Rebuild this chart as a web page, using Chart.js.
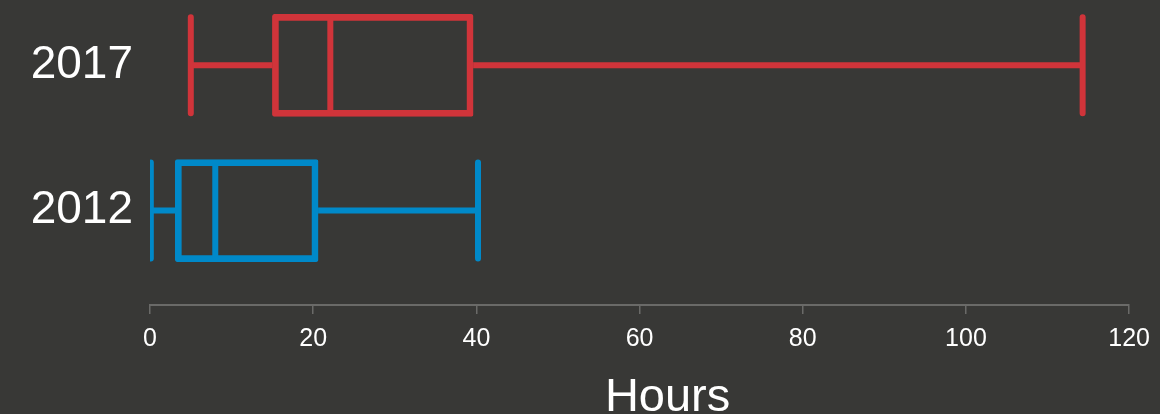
<!DOCTYPE html>
<html>
<head>
<meta charset="utf-8">
<script src="https://cdn.jsdelivr.net/npm/chart.js@4.4.1/dist/chart.umd.min.js"></script>
<style>
  html, body { margin: 0; padding: 0; background: #383836; }
  #wrap { width: 1160px; height: 414px; }
</style>
</head>
<body>
<div id="wrap"><canvas id="boxChart"></canvas></div>
<script>
// box plot values (hours)
const years = ["2017", "2012"];
const mins = [5, 0.1];
const q1s = [15, 3.1];
const medians = [22.1, 8];
const q3s = [39.6, 20.6];
const maxs = [114.3, 40.2];
const colors = ["#d0343a", "#0089c9"];
const xTicks = [0, 20, 40, 60, 80, 100, 120];

// row position of each year on the (hidden) linear y scale, top row first
const rowPos = years.map((y, i) => years.length - i);

const LINE = 6;
const BOX_H = 102;

const whiskerPlugin = {
  id: "whiskers",
  afterDatasetsDraw(chart) {
    const ctx = chart.ctx;
    const xs = chart.scales.x;
    const ys = chart.scales.y;
    const area = chart.chartArea;
    const half = BOX_H / 2 - LINE / 2;

    ctx.save();
    ctx.beginPath();
    ctx.rect(area.left, 0, area.right - area.left + 10, area.bottom);
    ctx.clip();
    ctx.lineWidth = LINE;

    years.forEach((yr, i) => {
      const y = ys.getPixelForValue(rowPos[i]);
      const px = v => xs.getPixelForValue(v);
      ctx.strokeStyle = colors[i];

      // whiskers
      ctx.lineCap = "butt";
      ctx.beginPath();
      ctx.moveTo(px(mins[i]), y);
      ctx.lineTo(px(q1s[i]), y);
      ctx.moveTo(px(q3s[i]), y);
      ctx.lineTo(px(maxs[i]), y);
      ctx.stroke();

      // median
      ctx.beginPath();
      ctx.moveTo(px(medians[i]), y - half);
      ctx.lineTo(px(medians[i]), y + half);
      ctx.stroke();

      // caps
      ctx.lineCap = "round";
      ctx.beginPath();
      ctx.moveTo(px(mins[i]), y - half);
      ctx.lineTo(px(mins[i]), y + half);
      ctx.moveTo(px(maxs[i]), y - half);
      ctx.lineTo(px(maxs[i]), y + half);
      ctx.stroke();
    });
    ctx.restore();

    // axis title
    ctx.save();
    ctx.fillStyle = "#ffffff";
    ctx.font = "47px 'Liberation Sans', Arial, sans-serif";
    ctx.textAlign = "center";
    ctx.textBaseline = "alphabetic";
    ctx.fillText("Hours", (area.left + area.right) / 2 + 28, 411);
    ctx.restore();
  }
};

new Chart(document.getElementById("boxChart"), {
  type: "bar",
  data: {
    datasets: [{
      data: years.map((yr, i) => ({ x: [q1s[i], q3s[i]], y: rowPos[i] })),
      backgroundColor: "rgba(0,0,0,0)",
      borderColor: colors,
      borderWidth: LINE,
      borderSkipped: false,
      borderRadius: 2,
      barThickness: BOX_H
    }]
  },
  options: {
    indexAxis: "y",
    responsive: true,
    maintainAspectRatio: false,
    animation: false,
    layout: { padding: { top: 0, right: 30, left: 0, bottom: 0 } },
    plugins: {
      legend: { display: false },
      tooltip: { enabled: false }
    },
    scales: {
      x: {
        type: "linear",
        min: 0,
        max: 120,
        afterBuildTicks: s => { s.ticks = xTicks.map(v => ({ value: v })); },
        afterFit: s => { s.height = 109; },
        grid: {
          drawOnChartArea: false,
          color: "#6a6a68",
          lineWidth: 1.5,
          tickLength: 9
        },
        border: { display: true, color: "#6a6a68", width: 2 },
        ticks: {
          color: "#ffffff",
          padding: 10,
          maxRotation: 0,
          font: { family: "'Liberation Sans', Arial, sans-serif", size: 25 }
        }
      },
      y: {
        type: "linear",
        offset: false,
        min: 0.35,
        max: 2.45,
        afterBuildTicks: s => { s.ticks = rowPos.map(v => ({ value: v })); },
        afterFit: s => { s.width = 150; s.paddingTop = 0; s.paddingBottom = 0; },
        grid: { display: false },
        border: { display: false },
        ticks: {
          color: "#ffffff",
          padding: 9,
          callback: v => years[rowPos.indexOf(v)],
          font: { family: "'Liberation Sans', Arial, sans-serif", size: 46 }
        }
      }
    }
  },
  plugins: [whiskerPlugin]
});
</script>
</body>
</html>
